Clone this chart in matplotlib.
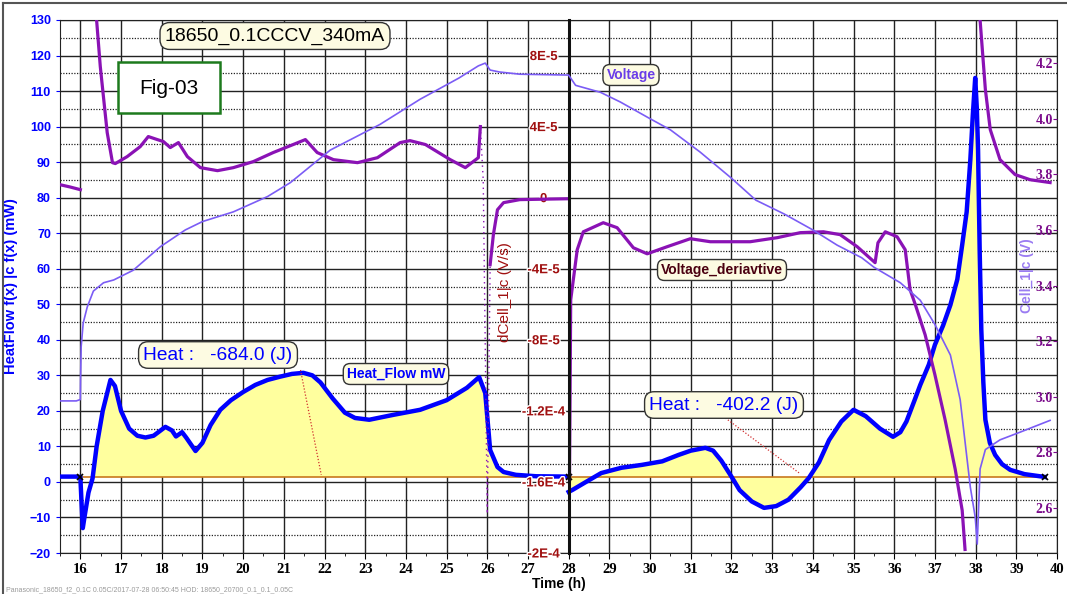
import numpy as np
import matplotlib
matplotlib.use("Agg")
import matplotlib.pyplot as plt
import matplotlib.patheffects as pe
from matplotlib.lines import Line2D
from matplotlib.patches import Rectangle

plt.rcParams['font.family'] = ['Liberation Sans', 'DejaVu Sans']

# heat flow (mW) vs time (h)
hf_t = [15.5, 15.7, 15.9, 16.0, 16.03, 16.06, 16.1, 16.2, 16.3, 16.4, 16.55, 16.74, 16.85,
        17.0, 17.2, 17.4, 17.6, 17.8, 18.09, 18.25, 18.35, 18.5, 18.6, 18.83, 19.0, 19.2,
        19.44, 19.7, 20.0, 20.3, 20.6, 20.9, 21.2, 21.48, 21.7, 21.9, 22.2, 22.5, 22.75,
        23.1, 23.7, 24.35, 25.0, 25.5, 25.8, 25.95, 26.0, 26.07, 26.25, 26.4, 26.7, 27.2, 28.0]
hf = [1.5, 1.5, 1.5, 1.4, -6, -13, -10, -3, 1, 10, 20, 28.7, 27,
      20, 15, 13, 12.5, 13, 15.5, 14.5, 12.8, 14, 12.5, 8.7, 11, 16,
      20.3, 23, 25.3, 27.3, 28.7, 29.6, 30.4, 30.7, 30, 28, 23.5, 19.5, 18,
      17.5, 18.9, 20.3, 23, 26.5, 29.5, 25, 18.3, 9, 4.2, 2.8, 2.0, 1.6, 1.5]
hf2_t = [28.0, 28.1, 28.5, 28.8, 29.3, 29.8, 30.3, 30.7, 31.0, 31.36, 31.55, 31.75, 32.0,
         32.2, 32.5, 32.8, 33.1, 33.4, 33.7, 33.9, 34.15, 34.4, 34.7, 35.0, 35.3, 35.65,
         35.97, 36.15, 36.3, 36.5, 36.64, 36.85, 37.0, 37.2, 37.38, 37.55, 37.67, 37.78,
         37.87, 37.93, 37.99, 38.03, 38.06, 38.1, 38.14, 38.19, 38.24, 38.35, 38.48, 38.65,
         38.85, 39.2, 39.7]
hf2 = [-2.8, -2.2, 0.5, 2.5, 4.0, 4.8, 5.8, 7.6, 8.8, 9.6, 8.8, 6, 1.5,
       -2.3, -5.5, -7.3, -6.8, -5, -1.5, 1.1, 5.5, 11.8, 17, 20.3, 18.5, 15,
       12.7, 14, 17, 23, 27.3, 33, 38.6, 44, 49.8, 57, 66.7, 76,
       90.6, 103, 113.7, 105, 93.4, 65, 42.8, 28, 17.5, 11, 7.6, 5,
       3.4, 2.2, 1.4]
baseline = 1.5

# cell voltage (V)
v_t = [15.5, 15.9, 16.0, 16.005, 16.02, 16.07, 16.17, 16.32, 16.57, 16.82, 17.3, 17.97,
       18.58, 19.0, 19.76, 20.6, 21.16, 22.14, 23.37, 24.35, 25.3, 25.78, 25.95, 26.07,
       26.3, 26.8, 28.0, 28.17, 28.78, 29.27, 30.0, 30.5, 31.23, 32.0, 32.6, 33.3, 34.0,
       34.6, 35.2, 35.5, 36.15, 36.64, 37.0, 37.38, 37.62, 37.87, 37.99, 38.04, 38.11,
       38.24, 38.6, 39.1, 39.83]
volt = [2.985, 2.985, 2.99, 3.06, 3.18, 3.265, 3.323, 3.38, 3.41, 3.42, 3.455, 3.54,
        3.60, 3.63, 3.665, 3.72, 3.77, 3.887, 3.98, 4.07, 4.146, 4.19, 4.2, 4.175,
        4.168, 4.16, 4.157, 4.12, 4.095, 4.06, 4.0, 3.96, 3.88, 3.786, 3.707, 3.657, 3.60,
        3.545, 3.50, 3.466, 3.41, 3.347, 3.26, 3.15, 2.99, 2.675, 2.567, 2.47, 2.74,
        2.81, 2.845, 2.873, 2.915]

# voltage derivative (V/s), in pieces
d1_t = [15.5, 15.75, 16.0]
d1 = [7.3e-6, 6.0e-6, 4.5e-6]
d2_t = [16.33, 16.49, 16.66, 16.79, 16.86, 17.15, 17.47, 17.67, 17.89, 18.04, 18.21, 18.41,
        18.63, 18.95, 19.37, 19.76, 20.25, 20.74, 21.23, 21.53, 21.82, 22.22, 22.81, 23.3,
        23.86, 24.1, 24.48, 25.09, 25.46, 25.78, 25.83]
d2 = [1.2e-4, 7.38e-5, 3.66e-5, 1.97e-5, 1.92e-5, 2.31e-5, 2.87e-5, 3.44e-5, 3.27e-5, 3.16e-5,
      2.82e-5, 3.1e-5, 2.31e-5, 1.69e-5, 1.52e-5, 1.69e-5, 2.03e-5, 2.54e-5, 2.99e-5, 3.27e-5,
      2.54e-5, 2.14e-5, 1.97e-5, 2.25e-5, 3.1e-5, 3.21e-5, 2.99e-5, 2.14e-5, 1.69e-5, 2.25e-5,
      4.0e-5]
d3_t = [26.07, 26.15, 26.25, 26.4, 26.8, 27.5, 28.0]
d3 = [-3.77e-5, -2.08e-5, -6.8e-6, -2.8e-6, -1.1e-6, -8e-7, -6e-7]
d4_t = [28.02, 28.05, 28.21, 28.36, 28.85, 29.19, 29.59, 29.93, 30.42, 30.99, 31.48, 32.46,
        33.13, 33.69, 34.26, 34.67, 35.09, 35.53, 35.6, 35.78, 36.07, 36.27, 36.39, 36.52,
        36.76, 37.0, 37.25, 37.5, 37.67, 37.74]
d4 = [-1.59e-4, -5.75e-5, -2.93e-5, -1.92e-5, -1.41e-5, -1.69e-5, -2.82e-5, -3.16e-5, -2.76e-5,
      -2.31e-5, -2.48e-5, -2.48e-5, -2.25e-5, -1.97e-5, -1.92e-5, -2.08e-5, -2.76e-5, -3.66e-5,
      -2.54e-5, -1.92e-5, -2.2e-5, -2.93e-5, -5.18e-5, -6.03e-5, -7.72e-5, -9.97e-5, -1.25e-4,
      -1.53e-4, -1.76e-4, -1.98e-4]
d5_t = [38.08, 38.11, 38.24, 38.36, 38.6, 38.97, 39.34, 39.83]
d5 = [1.2e-4, 1.0e-4, 6.08e-5, 3.83e-5, 2.14e-5, 1.3e-5, 1.01e-5, 8.5e-6]

x_ticks = list(range(16, 41))
hf_ticks = list(range(-20, 131, 10))
d_ticks = [8e-5, 4e-5, 0, -4e-5, -8e-5, -1.2e-4, -1.6e-4, -2e-4]
d_labels = ['8E-5', '4E-5', '0', '-4E-5', '-8E-5', '-1.2E-4', '-1.6E-4', '-2E-4']
v_ticks = [2.6, 2.8, 3.0, 3.2, 3.4, 3.6, 3.8, 4.0, 4.2]

W, H = 1067, 594
fig = plt.figure(figsize=(W / 100, H / 100), dpi=100)
ax = fig.add_axes([60 / W, 1 - 553 / H, 997 / W, 533 / H])

blue = '#0000ff'
purple = '#8a12b5'
vcol = '#7b5cf5'
dred = '#a01010'

# heat flow axis
ax.set_xlim(15.5, 40)
ax.set_ylim(-20, 130)
ax.set_xticks(x_ticks)
ax.set_xticks(np.arange(15.5, 40.01, 0.5), minor=True)
ax.set_yticks(hf_ticks)
ax.set_yticks(np.arange(-15, 130, 10), minor=True)
ax.set_axisbelow(True)
ax.grid(which='major', color='#222222', lw=1.0)
ax.grid(which='minor', axis='y', color='#222222', lw=0.9, linestyle=(0, (1, 1.2)))
ax.tick_params(axis='y', which='minor', length=0)
ax.tick_params(axis='x', which='minor', length=2)
ax.tick_params(axis='y', colors=blue, labelsize=9, length=3)
ax.tick_params(axis='x', labelsize=10.5, length=4, pad=3)
for lab in ax.get_yticklabels():
    lab.set_fontweight('bold')
for lab in ax.get_xticklabels():
    lab.set_fontweight('bold')
    lab.set_family(['Liberation Serif', 'DejaVu Serif'])
ax.set_xlabel('Time (h)', fontsize=10, fontweight='bold', labelpad=1)
ax.set_ylabel('HeatFlow f(x) |c f(x) (mW)', color=blue, fontsize=10.5, fontweight='bold')
ax.yaxis.set_label_coords(-0.042, 0.5)
for s in ax.spines.values():
    s.set_color('#222222')

t1 = np.array(hf_t)
y1 = np.array(hf)
m1 = t1 >= 16.25
ax.fill_between(t1[m1], y1[m1], baseline, color='#ffff9e', zorder=2, lw=0)
t2 = np.array(hf2_t)
y2 = np.array(hf2)
ax.fill_between(t2, y2, baseline, color='#ffff9e', zorder=2, lw=0)
ax.plot([16.0, 39.7], [baseline, baseline], color='#c8781e', lw=1.2, zorder=2.5)
ax.plot(hf_t, hf, color=blue, lw=3.2, zorder=3, solid_joinstyle='round')
ax.plot(hf2_t, hf2, color=blue, lw=3.2, zorder=3, solid_joinstyle='round')
ax.plot([16.0, 28.0, 39.7], [baseline] * 3, 'x', color='black', ms=5, mew=1.2, zorder=4)
# integration leader lines
ax.plot([21.41, 21.92], [31.5, 2.0], color='#d03030', lw=0.9, ls=(0, (1, 1.5)), zorder=3)
ax.plot([31.85, 33.69], [18.0, 2.3], color='#d03030', lw=0.9, ls=(0, (1, 1.5)), zorder=3)

# derivative axis, drawn at t = 28
axd = ax.twinx()
axd.set_ylim(-2e-4, 1e-4)
axd.spines['left'].set_position(('data', 28))
axd.spines['left'].set_visible(True)
axd.spines['left'].set_linewidth(2.2)
axd.spines['left'].set_color('#111111')
axd.spines['right'].set_visible(False)
axd.spines['top'].set_visible(False)
axd.spines['bottom'].set_visible(False)
axd.yaxis.tick_left()
axd.set_yticks(d_ticks)
axd.set_yticklabels(d_labels)
axd.tick_params(axis='y', colors=dred, labelsize=9.5, length=0, pad=18)
for tk in axd.yaxis.get_major_ticks():
    tk.label1.set_horizontalalignment('center')
    tk.label1.set_fontweight('bold')
    tk.label1.set_path_effects([pe.withStroke(linewidth=2.0, foreground='white')])
axd.set_ylabel('dCell_1|c (V/s)', color=dred, fontsize=11)
axd.yaxis.set_label_position('left')
axd.yaxis.set_label_coords(0.453, 0.49)
for tt, dd in [(d1_t, d1), (d2_t, d2), (d3_t, d3), (d4_t, d4), (d5_t, d5)]:
    axd.plot(tt, dd, color=purple, lw=2.3, solid_joinstyle='round')
axd.plot([25.83, 25.9, 26.0, 26.07], [4.0e-5, 1.0e-5, -1.78e-4, -3.77e-5], color=purple,
         lw=1.0, ls=(0, (1, 3)))
axd.plot([28.0, 28.02], [-6e-7, -1.59e-4], color=purple, lw=1.0, ls=(0, (1, 3)))

# voltage axis, labels inside the right edge
axv = ax.twinx()
axv.set_ylim(2.438, 4.355)
axv.set_yticks(v_ticks)
axv.yaxis.set_major_formatter(matplotlib.ticker.FormatStrFormatter('%.1f'))
axv.tick_params(axis='y', colors='#7a0a8a', labelsize=10, length=3, direction='in', pad=-3)
for tk in axv.yaxis.get_major_ticks():
    tk.label2.set_horizontalalignment('right')
    tk.label2.set_fontweight('bold')
    tk.label2.set_family(['Liberation Serif', 'DejaVu Serif'])
for s in axv.spines.values():
    s.set_visible(False)
axv.set_ylabel('Cell_1|c (V)', color='#9b7cf2', fontsize=10, fontweight='bold')
axv.yaxis.set_label_coords(0.963, 0.52)
axv.plot(v_t, volt, color=vcol, lw=1.2)


def fx(px):
    return px / W


def fy(py):
    return 1 - py / H


box = dict(boxstyle='round,pad=0.25,rounding_size=0.5', fc='#fdfbe2', ec='#333333', lw=1.0)
fig.text(fx(275), fy(36), '18650_0.1CCCV_340mA', fontsize=14, ha='center', va='center',
         bbox=box)
fig.add_artist(Rectangle((fx(118), fy(113)), fx(102), 51 / H, transform=fig.transFigure,
                         fc='white', ec='#1d7a1d', lw=1.8))
fig.text(fx(169), fy(88), 'Fig-03', fontsize=15, ha='center', va='center')
fig.text(fx(218), fy(355), 'Heat :   -684.0 (J)', fontsize=13.8, color=blue, ha='center',
         va='center', bbox=box)
fig.text(fx(396), fy(374), 'Heat_Flow mW', fontsize=10, color=blue, fontweight='bold',
         ha='center', va='center', bbox=box)
fig.text(fx(631), fy(75), 'Voltage', fontsize=10, color='#6a3de8', fontweight='bold',
         ha='center', va='center', bbox=box)
fig.text(fx(722), fy(270), 'Voltage_deriavtive', fontsize=10, color='#4a0010',
         fontweight='bold', ha='center', va='center', bbox=box)
fig.text(fx(724), fy(405), 'Heat :   -402.2 (J)', fontsize=13.8, color=blue, ha='center',
         va='center', bbox=box)

fig.text(0.006, 0.004, 'Panasonic_18650_f2_0.1C 0.05C/2017-07-28 06:50:45 HOD: 18650_20700_0.1_0.1_0.05C',
         fontsize=5, color='#9a9a9a')
fig.add_artist(Line2D([fx(3), 1], [fy(3), fy(3)], transform=fig.transFigure, color='#555555', lw=1.5))
fig.add_artist(Line2D([fx(3), fx(3)], [0, fy(3)], transform=fig.transFigure, color='#555555', lw=1.5))

fig.savefig('out.png', dpi=100)
